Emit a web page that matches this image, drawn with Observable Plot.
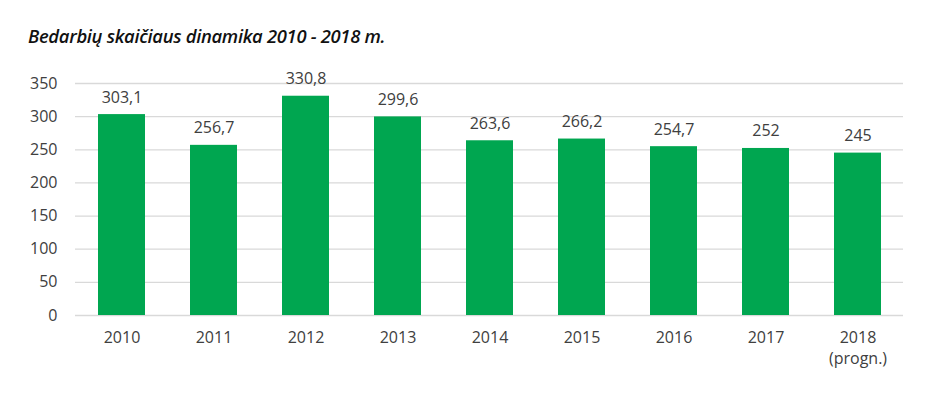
<!DOCTYPE html>
<html>
<head>
<meta charset="utf-8">
<script src="https://cdn.jsdelivr.net/npm/d3@7"></script>
<script src="https://cdn.jsdelivr.net/npm/@observablehq/plot@0.6"></script>
<style>
  html, body { margin: 0; padding: 0; background: #fff; }
  #title { position: absolute; left: 28px; top: 23px; font-family: "Open Sans", sans-serif; font-style: italic; font-weight: 600; font-size: 18.4px; color: #111; letter-spacing: -0.3px; }
  #chart { position: absolute; left: 0; top: 60px; }
</style>
</head>
<body>
<div id="title">Bedarbių skaičiaus dinamika 2010 - 2018 m.</div>
<div id="chart"></div>
<script>
const years = ["2010", "2011", "2012", "2013", "2014", "2015", "2016", "2017", "2018"];
const values = [303.1, 256.7, 330.8, 299.6, 263.6, 266.2, 254.7, 252, 245];
const yearLabels = ["2010", "2011", "2012", "2013", "2014", "2015", "2016", "2017", "2018\n(progn.)"];
const yTicks = [0, 50, 100, 150, 200, 250, 300, 350];

const data = years.map((y, i) => ({year: y, value: values[i], label: String(values[i]).replace(".", ",")}));
const labelMap = new Map(years.map((y, i) => [y, yearLabels[i]]));

const chart = Plot.plot({
  width: 935,
  height: 339,
  marginLeft: 75,
  marginRight: 32,
  marginTop: 23,
  marginBottom: 84,
  style: { fontFamily: "'Open Sans', sans-serif", fontSize: "16px", color: "#404040", background: "#fff" },
  x: { domain: years, paddingInner: 0.49, paddingOuter: 0.245, label: null },
  y: { domain: [0, 350], label: null },
  marks: [
    Plot.ruleY(yTicks, { stroke: "#d9d9d9", strokeWidth: 1.3 }),
    Plot.barY(data, { x: "year", y: "value", fill: "#00a650" }),
    Plot.text(data, { x: "year", y: "value", text: "label", dy: -12, lineAnchor: "bottom", fill: "#404040", fontSize: 16 }),
    Plot.axisY(yTicks, { tickSize: 0, tickPadding: 18, label: null, fill: "#404040", fontSize: 16 }),
    Plot.axisX({ tickSize: 0, tickPadding: 13, label: null, tickFormat: d => labelMap.get(d), fill: "#404040", fontSize: 16, lineHeight: 1.3 })
  ]
});
document.getElementById("chart").appendChild(chart);
</script>
</body>
</html>
